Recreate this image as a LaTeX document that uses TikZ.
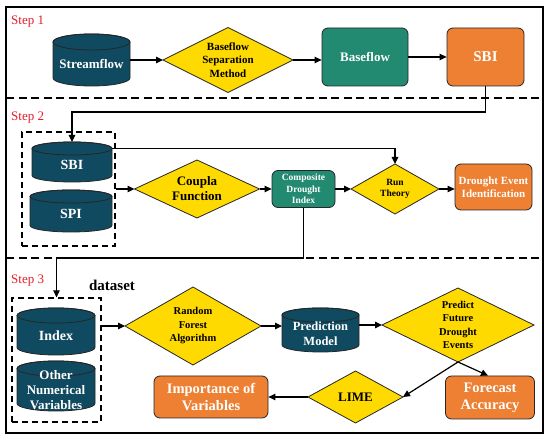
\documentclass[tikz,border=0pt]{standalone}
\usepackage{fontspec}
\setmainfont{Liberation Serif}
\usetikzlibrary{arrows.meta}
\definecolor{navy}{RGB}{16,74,96}
\definecolor{tealbox}{RGB}{33,138,112}
\definecolor{orangebox}{RGB}{237,128,50}
\definecolor{yel}{RGB}{255,218,0}
\definecolor{stepred}{RGB}{230,30,40}
\tikzset{
 box/.style={rectangle, inner sep=0pt, outer sep=0pt},
 arr/.style={line width=1.2pt, -{Triangle[length=7pt,width=6.5pt]}},
 ln/.style={line width=1.2pt},
 sepline/.style={line width=1.5pt, dash pattern=on 8pt off 4.5pt},
 grp/.style={draw, line width=1.3pt, dash pattern=on 6pt off 4pt, inner sep=0pt},
 frame/.style={line width=1.5pt},
 dia/.style={fill=yel, draw=black!85, line width=0.8pt},
 cylf/.style={fill=navy, draw=black!85, line width=0.8pt},
 rbox/.style={rectangle, rounded corners=6pt, draw=black!85, line width=0.8pt, align=center, text=white, inner sep=0pt},
 tealb/.style={rbox, fill=tealbox},
 orb/.style={rbox, fill=orangebox},
 wt/.style={text=white, align=center, inner sep=0pt},
 bt/.style={text=black, align=center, inner sep=0pt},
 steplab/.style={text=stepred, anchor=west, inner sep=0pt, font=\fontsize{13}{15}\selectfont},
 f95/.style={font=\fontsize{9.5}{11.5}\selectfont\bfseries},
 f105/.style={font=\fontsize{10.5}{13.5}\selectfont\bfseries},
 f11/.style={font=\fontsize{11}{13.5}\selectfont\bfseries},
 f125/.style={font=\fontsize{12.5}{15.5}\selectfont\bfseries},
 f13/.style={font=\fontsize{13}{15}\selectfont\bfseries},
 f14/.style={font=\fontsize{14}{16}\selectfont\bfseries},
 f145/.style={font=\fontsize{14.5}{17}\selectfont\bfseries},
 f15/.style={font=\fontsize{15}{17}\selectfont\bfseries},
}
% cylinder: name, cx, cy(top-origin), w, h, ry, fontstyle, text
\newcommand\cylat[8]{%
 \node[box, minimum width=#4pt, minimum height=#5pt] (#1) at (#2,442-#3) {};
 \filldraw[cylf] ([yshift=-#6pt]#1.north west) -- ([yshift=#6pt]#1.south west)
   arc[start angle=180,end angle=360,x radius=#4pt/2,y radius=#6pt]
   -- ([yshift=-#6pt]#1.north east)
   arc[start angle=0,end angle=180,x radius=#4pt/2,y radius=#6pt] -- cycle;
 \draw[cylf, fill=none] ([yshift=-#6pt]#1.north) ellipse[x radius=#4pt/2, y radius=#6pt];
 \node[wt, #7] (#1-t) at ([yshift=-#6pt/2]#1.center) {#8};
}
% diamond: name, cx, cy, w, h, fontstyle, text
\newcommand\diaat[7]{%
 \node[box, minimum width=#4pt, minimum height=#5pt] (#1) at (#2,442-#3) {};
 \filldraw[dia] (#1.north) -- (#1.east) -- (#1.south) -- (#1.west) -- cycle;
 \node[bt, #6] (#1-t) at (#1.center) {#7};
}
\begin{document}
\begin{tikzpicture}[x=1pt,y=1pt]
\useasboundingbox (0,0) rectangle (550,442);
\fill[white] (0,0) rectangle (550,442);
% frame and separators
\draw[frame] (6,442-7) rectangle (543,442-433);
\draw[sepline] (6,442-98) -- (543,442-98);
\draw[sepline] (6,442-258) -- (543,442-258);
% step labels
\node[steplab] (s1) at (11,442-22) {Step 1};
\node[steplab] (s2) at (11,442-118) {Step 2};
\node[steplab] (s3) at (11,442-281) {Step 3};
% ---- Step 1
\cylat{sf}{91.5}{60}{77}{52}{8}{f13}{Streamflow}
\diaat{bsm}{228}{60}{130}{65}{f11}{Baseflow\\Separation\\Method}
\node[tealb, f13, minimum width=86pt, minimum height=58pt] (bf) at (365,442-57) {Baseflow};
\node[orb, f15, minimum width=77pt, minimum height=58pt] (sbi1) at (485.5,442-57) {SBI};
\draw[arr] (sf.east) -- (bsm.west);
\draw[arr] (bsm.east) -- (bsm.east -| bf.west);
\draw[arr] (bf.east) -- (sbi1.west);
% ---- Step 2
\node[grp, minimum width=93pt, minimum height=114pt] (g2) at (68.5,442-189) {};
\cylat{sbi2}{72}{162}{80}{40}{6.5}{f14}{SBI}
\cylat{spi}{71}{211}{82}{42}{6.5}{f14}{SPI}
\diaat{cp}{197}{189}{125}{58}{f13}{Coupla\\Function}
\node[tealb, f95, minimum width=63pt, minimum height=37pt] (cdi) at (303.5,442-189) {Composite\\Drought\\Index};
\diaat{run}{395}{189}{88}{50}{f95}{Run\\Theory}
\node[orb, f11, minimum width=77pt, minimum height=46pt] (dei) at (493.5,442-187) {Drought Event\\Identification};
\coordinate (c1) at (485.5,442-112);
\draw[arr] (sbi1.south) -- (c1) -| (sbi2.north);
\draw[arr] ([yshift=-6.5pt]sbi2.north east) -| (run.north);
\draw[arr] (g2.east) -- (cp.west);
\draw[arr] (cp.east) -- (cdi.west);
\draw[arr] (cdi.east) -- (run.west);
\draw[arr] (run.east) -- (run.east -| dei.west);
% ---- Step 3
\node[bt, f15] (ds) at (112,442-285) {dataset};
\node[grp, minimum width=89pt, minimum height=124pt] (g3) at (56.5,442-360) {};
\cylat{idx}{56}{331.5}{78}{47}{7.5}{f14}{Index}
\cylat{onv}{56}{386}{78}{50}{7.5}{f13}{Other\\Numerical\\Variables}
\diaat{rf}{193}{326}{136}{78}{f105}{Random\\Forest\\Algorithm}
\cylat{pm}{320.5}{330}{77}{44}{7}{f125}{Prediction\\Model}
\diaat{pfde}{458}{325}{152}{74}{f105}{Predict\\Future\\Drought\\Events}
\node[orb, f145, minimum width=89pt, minimum height=43pt] (fa) at (490,442-397.5) {Forecast\\Accuracy};
\diaat{lime}{355.5}{397}{95}{52}{f13}{LIME}
\node[orb, f145, minimum width=114pt, minimum height=42pt] (imp) at (211,442-397) {Importance of\\Variables};
\coordinate (c2) at (56.5,442-258);
\draw[arr] (cdi.south) |- (c2) -- (g3.north);
\draw[arr] (g3.east |- rf.west) -- (rf.west);
\draw[arr] (rf.east) -- (rf.east -| pm.west);
\draw[arr] (pm.east |- pfde.west) -- (pfde.west);
\draw[arr] (pfde.south) -- ([xshift=-2pt]fa.north);
\draw[arr] (pfde.south) -- (lime.east);
\draw[arr] (lime.west) -- (imp.east);
\end{tikzpicture}
\end{document}
